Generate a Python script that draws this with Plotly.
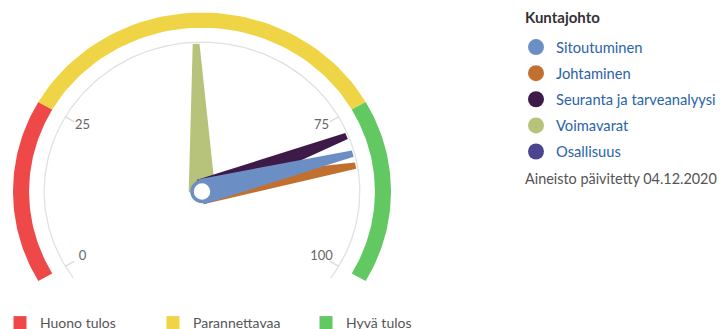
import numpy as np
import plotly.graph_objects as go

# ---------------- data ----------------
band_names = ["Huono tulos", "Parannettavaa", "Hyvä tulos"]
band_from = [0, 25, 75]
band_to = [25, 75, 100]
band_colors = ["#ef4848", "#efd445", "#62c862"]

series_names = ["Sitoutuminen", "Johtaminen", "Seuranta ja tarveanalyysi", "Voimavarat", "Osallisuus"]
series_values = [81.3, 83.3, 78.3, 49.1, None]
series_colors = ["#6b8fc5", "#c2702f", "#3e1a48", "#b7c27a", "#4d4490"]

tick_values = [0, 25, 75, 100]
tick_labels = ["0", "25", "75", "100"]

legend_title = "Kuntajohto"
updated_text = "Aineisto päivitetty 04.12.2020"

# ---------------- gauge scale ----------------
G_MIN, G_MAX = 0, 100
A_START, A_END = 210.0, -30.0  # degrees, math convention

def ang(v):
    return np.radians(A_START + (np.asarray(v, dtype=float) - G_MIN) / (G_MAX - G_MIN) * (A_END - A_START))

def polar_xy(r, v):
    a = ang(v)
    return r * np.cos(a), r * np.sin(a)

R_OUT, R_IN = 1.0, 0.915
R_RING = 0.835
R_TICK_IN = 0.78
R_LABEL = 0.73
R_NEEDLE = 0.82

FONT = "Lato"

fig = go.Figure()

# colour bands
for name, f, t, c in zip(band_names, band_from, band_to, band_colors):
    vs = np.linspace(f, t, 60)
    xo, yo = polar_xy(R_OUT, vs)
    xi, yi = polar_xy(R_IN, vs[::-1])
    fig.add_trace(go.Scatter(x=np.r_[xo, xi, xo[:1]], y=np.r_[yo, yi, yo[:1]], mode="lines",
                             fill="toself", fillcolor=c, line=dict(width=0, color=c),
                             showlegend=False, hoverinfo="skip"))

# thin grey ring
vs = np.linspace(G_MIN - 2.2, G_MAX + 2.2, 200)
rx, ry = polar_xy(R_RING, vs)
fig.add_trace(go.Scatter(x=rx, y=ry, mode="lines", line=dict(color="#e1e1e1", width=1.3),
                         showlegend=False, hoverinfo="skip"))

# ticks
for v in tick_values:
    x1, y1 = polar_xy(R_RING, v)
    x2, y2 = polar_xy(R_TICK_IN, v)
    fig.add_trace(go.Scatter(x=[x1, x2], y=[y1, y2], mode="lines", line=dict(color="#d6d6d6", width=1.2),
                             showlegend=False, hoverinfo="skip"))
lx, ly = polar_xy(R_LABEL, tick_values)
fig.add_trace(go.Scatter(x=lx, y=ly, mode="text", text=tick_labels,
                         textfont=dict(family=FONT, size=13, color="#666666"),
                         showlegend=False, hoverinfo="skip"))

# needles (draw order: last one on top)
draw_order = [4, 3, 2, 1, 0]
HW_BASE, HW_TIP = 0.065, 0.013
for i in draw_order:
    v = series_values[i]
    if v is None:
        continue
    a = float(ang(v))
    ux, uy = np.cos(a), np.sin(a)
    nx, ny = -uy, ux
    tx, ty = R_NEEDLE * ux, R_NEEDLE * uy
    xs = [HW_BASE * nx, tx + HW_TIP * nx, tx - HW_TIP * nx, -HW_BASE * nx, HW_BASE * nx]
    ys = [HW_BASE * ny, ty + HW_TIP * ny, ty - HW_TIP * ny, -HW_BASE * ny, HW_BASE * ny]
    fig.add_trace(go.Scatter(x=xs, y=ys, mode="lines", fill="toself", fillcolor=series_colors[i],
                             line=dict(color=series_colors[i], width=2),
                             showlegend=False, hoverinfo="skip"))

# pivot
fig.add_trace(go.Scatter(x=[0], y=[0], mode="markers",
                         marker=dict(size=20, color="white", line=dict(color=series_colors[0], width=3.5)),
                         showlegend=False, hoverinfo="skip"))

# legend-only entries: series (right legend)
for i, (n, c) in enumerate(zip(series_names, series_colors)):
    fig.add_trace(go.Scatter(x=[None], y=[None], mode="markers", name=n,
                             marker=dict(symbol="circle", size=16, color=c),
                             legend="legend", legendgroup="s%d" % i, showlegend=True))

# legend-only entries: bands (bottom legend)
for n, c in zip(band_names, band_colors):
    fig.add_trace(go.Scatter(x=[None], y=[None], mode="markers", name=n,
                             marker=dict(symbol="square", size=13, color=c),
                             legend="legend2", showlegend=True))

W, H = 720, 329
CX, CY = 202.0, 191.5
PXU_X, PXU_Y = 189.0, 179.0
GAUGE_W = 404.0

fig.update_layout(
    width=W, height=H,
    margin=dict(l=0, r=0, t=0, b=0, autoexpand=False),
    paper_bgcolor="white", plot_bgcolor="white",
    xaxis=dict(domain=[0, GAUGE_W / W], range=[-CX / PXU_X, (GAUGE_W - CX) / PXU_X],
               visible=False, fixedrange=True),
    yaxis=dict(domain=[0, 1], range=[-(H - CY) / PXU_Y, CY / PXU_Y], visible=False, fixedrange=True),
    showlegend=True,
    legend=dict(
        x=516 / W, y=1 - 31 / H, xanchor="left", yanchor="top",
        font=dict(family=FONT, size=14.7, color="#2a64a8"),
        tracegroupgap=4, itemsizing="trace", bgcolor="rgba(0,0,0,0)",
    ),
    legend2=dict(
        orientation="h", x=0, y=(H - 323) / H, xanchor="left", yanchor="middle",
        font=dict(family=FONT, size=14, color="#555555"),
        entrywidth=108, entrywidthmode="pixels", bgcolor="rgba(0,0,0,0)",
    ),
    annotations=[
        dict(text="<b>%s</b>" % legend_title, x=523 / W, y=1 - 17 / H, xref="paper", yref="paper",
             xanchor="left", yanchor="middle", showarrow=False,
             font=dict(family=FONT, size=15, color="#333333")),
        dict(text=updated_text, x=523 / W, y=1 - 178 / H, xref="paper", yref="paper",
             xanchor="left", yanchor="middle", showarrow=False,
             font=dict(family=FONT, size=14.4, color="#555555")),
    ],
)

fig.write_html("out.html")
